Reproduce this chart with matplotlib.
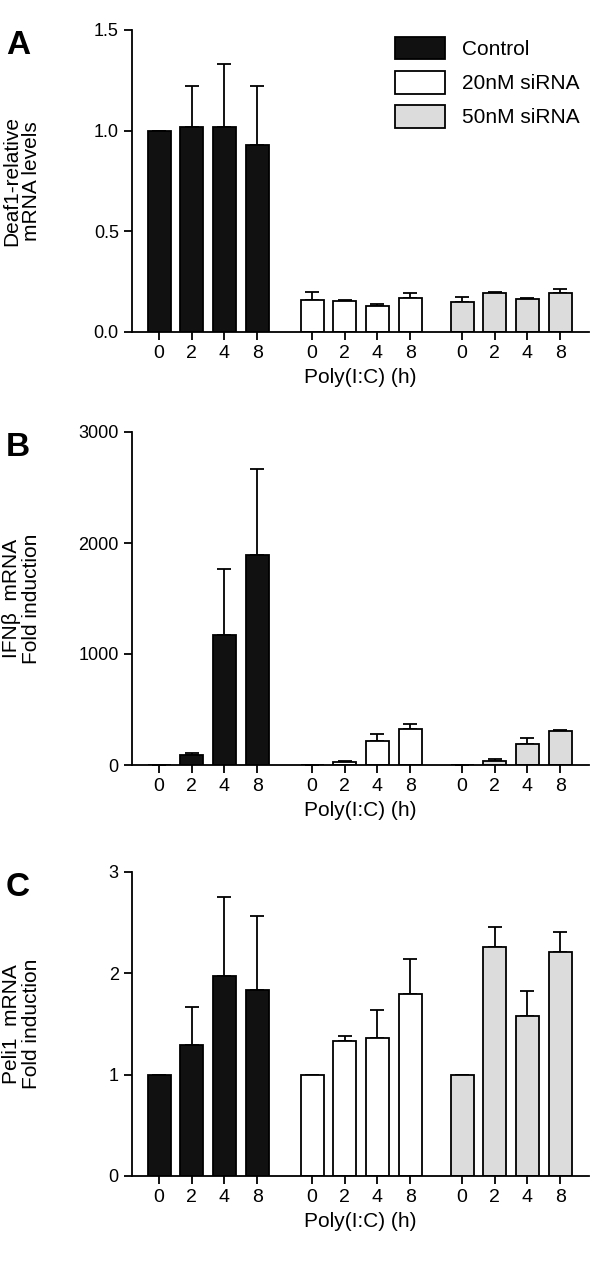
import matplotlib
matplotlib.use("Agg")
import matplotlib.pyplot as plt
from matplotlib.patches import Patch

plt.rcParams["font.family"] = "Liberation Sans"

times = ["0", "2", "4", "8"]
groups = ["Control", "20nM siRNA", "50nM siRNA"]
colors = ["#111111", "#ffffff", "#dcdcdc"]

a_vals = [[1.0, 1.02, 1.02, 0.93], [0.16, 0.155, 0.13, 0.17], [0.15, 0.195, 0.165, 0.195]]
a_err = [[0.0, 0.2, 0.31, 0.29], [0.04, 0.005, 0.01, 0.025], [0.025, 0.005, 0.005, 0.02]]
b_vals = [[0, 90, 1170, 1890], [0, 30, 220, 320], [0, 40, 185, 310]]
b_err = [[0, 20, 600, 780], [0, 10, 60, 50], [0, 10, 55, 5]]
c_vals = [[1, 1.29, 1.97, 1.84], [1, 1.33, 1.36, 1.80], [1, 2.26, 1.58, 2.21]]
c_err = [[0, 0.38, 0.78, 0.73], [0, 0.05, 0.28, 0.34], [0, 0.2, 0.25, 0.2]]

fig = plt.figure(figsize=(6, 12.83), dpi=100)
H = 1283
L = 132
XMAX = 589
starts = [159, 312, 462]

def panel(top, bot, vals, errs, ylim, yticks, yticklabels, ylabel, letter):
    ax = fig.add_axes([L/600, 1-bot/H, (XMAX-L)/600, (bot-top)/H])
    xs_all, labs = [], []
    for g in range(3):
        xs = [starts[g] + 32.7*i for i in range(4)]
        ax.bar(xs, vals[g], width=23, color=colors[g], edgecolor="black", linewidth=1.3, zorder=2)
        ax.errorbar(xs, vals[g], yerr=[[0]*4, errs[g]], fmt="none", ecolor="black",
                    elinewidth=1.3, capsize=5, capthick=1.3, zorder=1)
        xs_all += xs; labs += times
    ax.set_xlim(L, XMAX)
    ax.set_ylim(*ylim)
    ax.set_yticks(yticks); ax.set_yticklabels(yticklabels, fontsize=13)
    ax.set_xticks(xs_all); ax.set_xticklabels(labs, fontsize=14)
    ax.spines["top"].set_visible(False); ax.spines["right"].set_visible(False)
    for s in ["left", "bottom"]: ax.spines[s].set_linewidth(1.3)
    ax.tick_params(width=1.3, length=6)
    ax.set_xlabel("Poly(I:C) (h)", fontsize=15)
    ax.set_ylabel(ylabel, fontsize=15, linespacing=1.05)
    ax.yaxis.set_label_coords(-0.2, 0.5)
    fig.text(6/600, 1-(top+15)/H, letter, fontsize=24, fontweight="bold", va="center")
    return ax

axA = panel(30, 332, a_vals, a_err, (0, 1.5), [0, 0.5, 1.0, 1.5], ["0.0", "0.5", "1.0", "1.5"],
            "Deaf1-relative\nmRNA levels", "A")
axA.legend(handles=[Patch(facecolor=c, edgecolor="black", linewidth=1.3) for c in colors],
           labels=groups, loc="upper right", bbox_to_anchor=(1.02, 1.04), frameon=False,
           fontsize=15, handlelength=2.4, handleheight=1.3, labelspacing=0.55)
panel(432, 765, b_vals, b_err, (0, 3000), [0, 1000, 2000, 3000], ["0", "1000", "2000", "3000"],
      "IFN\u03b2  mRNA\nFold induction", "B")
panel(872, 1176, c_vals, c_err, (0, 3), [0, 1, 2, 3], ["0", "1", "2", "3"],
      "Peli1  mRNA\nFold induction", "C")

fig.savefig("out.png", dpi=100)
